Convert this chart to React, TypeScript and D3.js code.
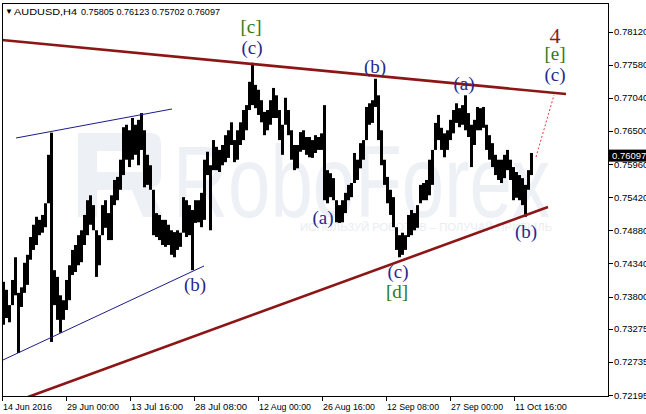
import React from "react";
import * as d3 from "d3";

// ---------- data ----------
const symbol = "AUDUSD,H4";
const lastOHLC = [0.75805, 0.76123, 0.75702, 0.76097];
const lastPrice = 0.76097;

const priceTicks = [0.7812, 0.7758, 0.7704, 0.765, 0.7596, 0.7542, 0.7488, 0.7434, 0.738, 0.73275, 0.72735, 0.72195];

const timeLabels = ["14 Jun 2016", "29 Jun 00:00", "13 Jul 16:00", "28 Jul 08:00", "12 Aug 00:00", "26 Aug 16:00", "12 Sep 08:00", "27 Sep 00:00", "11 Oct 16:00"];
const timeLabelBars = [0, 64, 128, 192, 256, 320, 384, 448, 512]; // H4 bar index

// H12 ranges (each covers 3 H4 bars)
const BARS_PER_SAMPLE = 3;
const highs = [
  0.7404, 0.7391, 0.7366, 0.7407, 0.7444, 0.7386, 0.7395, 0.7435, 0.7448, 0.7477,
  0.7497, 0.751, 0.7505, 0.7513, 0.7532, 0.7611, 0.7647, 0.7423, 0.7412, 0.7382,
  0.7374, 0.7407, 0.7431, 0.7456, 0.7464, 0.748, 0.7488, 0.7513, 0.7537, 0.7545,
  0.7529, 0.7488, 0.748, 0.7529, 0.7537, 0.7516, 0.7545, 0.757, 0.7575, 0.7603,
  0.7656, 0.766, 0.7651, 0.7671, 0.766, 0.7668, 0.7679, 0.7651, 0.7611, 0.7594,
  0.7554, 0.7516, 0.7513, 0.7505, 0.7505, 0.7497, 0.7488, 0.7485, 0.7488, 0.7484,
  0.7542, 0.7537, 0.7529, 0.7521, 0.7537, 0.7537, 0.7549, 0.7603, 0.7616, 0.7594,
  0.7635, 0.7624, 0.7619, 0.7627, 0.7643, 0.7651, 0.7664, 0.7635, 0.7651, 0.7664,
  0.7684, 0.7692, 0.773, 0.7761, 0.7725, 0.7717, 0.77, 0.7681, 0.7684, 0.77,
  0.772, 0.7708, 0.7684, 0.766, 0.7704, 0.7684, 0.7651, 0.7627, 0.7627, 0.7648,
  0.7651, 0.764, 0.764, 0.7635, 0.7643, 0.764, 0.7646, 0.7692, 0.7586, 0.7581,
  0.7573, 0.7537, 0.7529, 0.7537, 0.7549, 0.7562, 0.7565, 0.7614, 0.7603, 0.763,
  0.7635, 0.7689, 0.7695, 0.77, 0.7735, 0.7708, 0.7651, 0.7603, 0.7575, 0.7554,
  0.7542, 0.7493, 0.748, 0.7484, 0.748, 0.7513, 0.7521, 0.7516, 0.7529, 0.7562,
  0.7565, 0.757, 0.7603, 0.7619, 0.7663, 0.7676, 0.7655, 0.7646, 0.7651, 0.7668,
  0.7684, 0.7695, 0.7687, 0.7692, 0.7708, 0.7679, 0.766, 0.7668, 0.7689, 0.7687,
  0.7689, 0.766, 0.7643, 0.763, 0.7611, 0.7603, 0.7603, 0.7611, 0.7619, 0.7603,
  0.7591, 0.7583, 0.7578, 0.7573, 0.7562, 0.7586, 0.7614,
];
const lows = [
  0.7334, 0.7345, 0.7338, 0.7366, 0.7382, 0.7288, 0.7363, 0.7386, 0.7399, 0.744,
  0.7456, 0.7464, 0.748, 0.7484, 0.7493, 0.7532, 0.7306, 0.7366, 0.7342, 0.7321,
  0.7342, 0.7358, 0.7374, 0.7415, 0.742, 0.7431, 0.7436, 0.7464, 0.748, 0.7497,
  0.7488, 0.7412, 0.7431, 0.748, 0.7492, 0.7472, 0.7472, 0.7529, 0.7537, 0.7554,
  0.7578, 0.7603, 0.7591, 0.7603, 0.7611, 0.7594, 0.7619, 0.7558, 0.7562, 0.7554,
  0.748, 0.7477, 0.7472, 0.7464, 0.7461, 0.7464, 0.7448, 0.7444, 0.7456, 0.7461,
  0.7484, 0.7477, 0.748, 0.7423, 0.75, 0.7501, 0.7493, 0.7505, 0.7578, 0.7488,
  0.7586, 0.7586, 0.7583, 0.7594, 0.7599, 0.7606, 0.7627, 0.7599, 0.7603, 0.7627,
  0.7635, 0.7651, 0.7684, 0.7692, 0.7687, 0.7676, 0.7664, 0.7643, 0.7651, 0.766,
  0.7671, 0.7671, 0.7635, 0.7611, 0.766, 0.7643, 0.7603, 0.7586, 0.7589, 0.7616,
  0.7619, 0.7611, 0.7607, 0.7606, 0.7614, 0.7619, 0.7619, 0.7537, 0.7532, 0.7542,
  0.7537, 0.7501, 0.75, 0.7501, 0.7516, 0.7537, 0.7542, 0.7565, 0.757, 0.7589,
  0.7603, 0.7635, 0.766, 0.7663, 0.7689, 0.7635, 0.7594, 0.7562, 0.7532, 0.7513,
  0.7493, 0.7456, 0.7444, 0.7448, 0.7456, 0.7477, 0.748, 0.7488, 0.7492, 0.7532,
  0.7537, 0.7537, 0.7545, 0.7562, 0.7619, 0.7635, 0.7619, 0.7607, 0.7619, 0.7635,
  0.7646, 0.7663, 0.7656, 0.766, 0.7651, 0.764, 0.7591, 0.7627, 0.7651, 0.7651,
  0.7655, 0.7619, 0.7603, 0.7591, 0.7578, 0.757, 0.7565, 0.7573, 0.7586, 0.757,
  0.7537, 0.7541, 0.7537, 0.7529, 0.751, 0.7554, 0.7578,
];

// trend lines: [bar, price] endpoints
const triangleLines = [
  [[-1, 0.77981], [563, 0.77101]],
  [[25, 0.72162], [545, 0.75259]],
];
const channelLines = [
  [[13, 0.76384], [169, 0.76857]],
  [[0, 0.72766], [201, 0.74298]],
];
const forecastLines = [[[533, 0.76074], [551, 0.77085]]];

// wave labels: text, bar, price, degree
const waveLabels: [string, number, number, string][] = [
  ["[c]", 248, 0.78193, "green"],
  ["(c)", 249, 0.77835, "navy"],
  ["(b)", 372, 0.77541, "navy"],
  ["(a)", 461, 0.77264, "navy"],
  ["4", 552, 0.78047, "maroon"],
  ["[e]", 552, 0.77737, "green"],
  ["(c)", 552, 0.77395, "navy"],
  ["(a)", 320, 0.7508, "navy"],
  ["(c)", 395, 0.74184, "navy"],
  ["[d]", 394, 0.73858, "green"],
  ["(b)", 523, 0.74836, "navy"],
  ["(b)", 192, 0.73972, "navy"],
];

// ---------- layout ----------
const W = 646;
const H = 414;
const L = 2, T = 3, R = 609, B = 397;

const labelColors: Record<string, string> = { navy: "#28298c", green: "#2f7a14", maroon: "#8c1b1b" };

export default function App() {
  const x = d3.scaleLinear().domain([0, 530]).range([3, 533]);
  const y = d3.scaleLinear().domain([0.72195, 0.7812]).range([395, 31.5]);
  const line = d3.line<number[]>().x((d) => x(d[0])).y((d) => y(d[1]));
  const sans = "'Liberation Sans', Arial, sans-serif";
  const serif = "'Liberation Serif', 'Times New Roman', serif";
  const wm = "#edf0f5";

  return (
    <svg width={W} height={H} style={{ position: "absolute", left: 0, top: 0, background: "#fff" }}>
      <defs>
        <clipPath id="plot">
          <rect x={L} y={T} width={R - L} height={B - T} />
        </clipPath>
      </defs>
      <rect x={0} y={0} width={W} height={H} fill="#fff" />

      {/* watermark */}
      <g>
        <path
          d="M78,133 H150 Q161,133 161,144 V176 Q161,186 151,188 L163,217 H143 L132,190 H97 V217 H78 Z M97,151 H142 V172 H97 Z"
          fill={wm}
          fillRule="evenodd"
        />
        <text x={173} y={217} fontFamily={sans} fontSize={102} fill={wm} textLength={377} lengthAdjust="spacingAndGlyphs">
          RoboForex
        </text>
        <text x={300} y={231} fontFamily={sans} fontSize={11} fill="#e9edf3" textLength={252} lengthAdjust="spacingAndGlyphs">
          ИСПОЛЬЗУЙ РОБОТОВ – ПОЛУЧАЙ ПРИБЫЛЬ
        </text>
      </g>

      <g clipPath="url(#plot)">
        {/* price bars */}
        {highs.map((h, i) => (
          <rect
            key={i}
            x={x(i * BARS_PER_SAMPLE) - 1}
            y={y(h)}
            width={3}
            height={Math.max(1, y(lows[i]) - y(h))}
            fill="#000"
          />
        ))}
        {channelLines.map((l, i) => (
          <path key={"c" + i} d={line(l) || ""} stroke="#1c1c8a" strokeWidth={1} fill="none" />
        ))}
        {triangleLines.map((l, i) => (
          <path key={"t" + i} d={line(l) || ""} stroke="#8c1515" strokeWidth={2.6} fill="none" />
        ))}
        {forecastLines.map((l, i) => (
          <path key={"f" + i} d={line(l) || ""} stroke="#e83a4a" strokeWidth={1} strokeDasharray="2,2" fill="none" />
        ))}
      </g>

      {/* wave labels */}
      {waveLabels.map(([t, b, p, deg], i) => (
        <text
          key={"w" + i}
          x={x(b)}
          y={y(p) + (deg === "maroon" ? 7.5 : 5.5)}
          textAnchor="middle"
          fontFamily={serif}
          fontSize={deg === "maroon" ? 22 : 19}
          fill={labelColors[deg]}
        >
          {t}
        </text>
      ))}

      {/* frame */}
      <rect x={L + 0.5} y={T + 0.5} width={R - L - 1} height={B - T - 1} fill="none" stroke="#000" strokeWidth={1} />

      {/* price axis */}
      {priceTicks.map((p, i) => (
        <g key={"p" + i}>
          <line x1={R} x2={R + 4} y1={Math.round(y(p)) + 0.5} y2={Math.round(y(p)) + 0.5} stroke="#000" />
          <text x={614} y={y(p) + 3.5} fontFamily={sans} fontSize={9.5} fill="#000">
            {p.toFixed(5)}
          </text>
        </g>
      ))}
      <rect x={R} y={y(lastPrice) - 6} width={W - R} height={12} fill="#000" />
      <text x={612} y={y(lastPrice) + 3.5} fontFamily={sans} fontSize={9.5} fill="#fff">
        {lastPrice.toFixed(5)}
      </text>

      {/* time axis */}
      {timeLabels.map((t, i) => (
        <g key={"t" + i}>
          <line x1={Math.round(x(timeLabelBars[i])) - 0.5} x2={Math.round(x(timeLabelBars[i])) - 0.5} y1={B} y2={B + 4} stroke="#000" />
          <text
            x={x(timeLabelBars[i])}
            y={410}
            fontFamily={sans}
            fontSize={9.5}
            fill="#000"
            textLength={i === 0 ? 49 : 52}
            lengthAdjust="spacingAndGlyphs"
          >
            {t}
          </text>
        </g>
      ))}

      {/* header */}
      <text x={5} y={14} fontFamily={sans} fontSize={8} fill="#000">▼</text>
      <text x={14} y={15} fontFamily={sans} fontSize={9.5} fill="#000" textLength={63} lengthAdjust="spacingAndGlyphs">
        {symbol}
      </text>
      <text x={81} y={15} fontFamily={sans} fontSize={9.5} fill="#000" textLength={139} lengthAdjust="spacingAndGlyphs">
        {lastOHLC.map((v) => v.toFixed(5)).join(" ")}
      </text>
    </svg>
  );
}
